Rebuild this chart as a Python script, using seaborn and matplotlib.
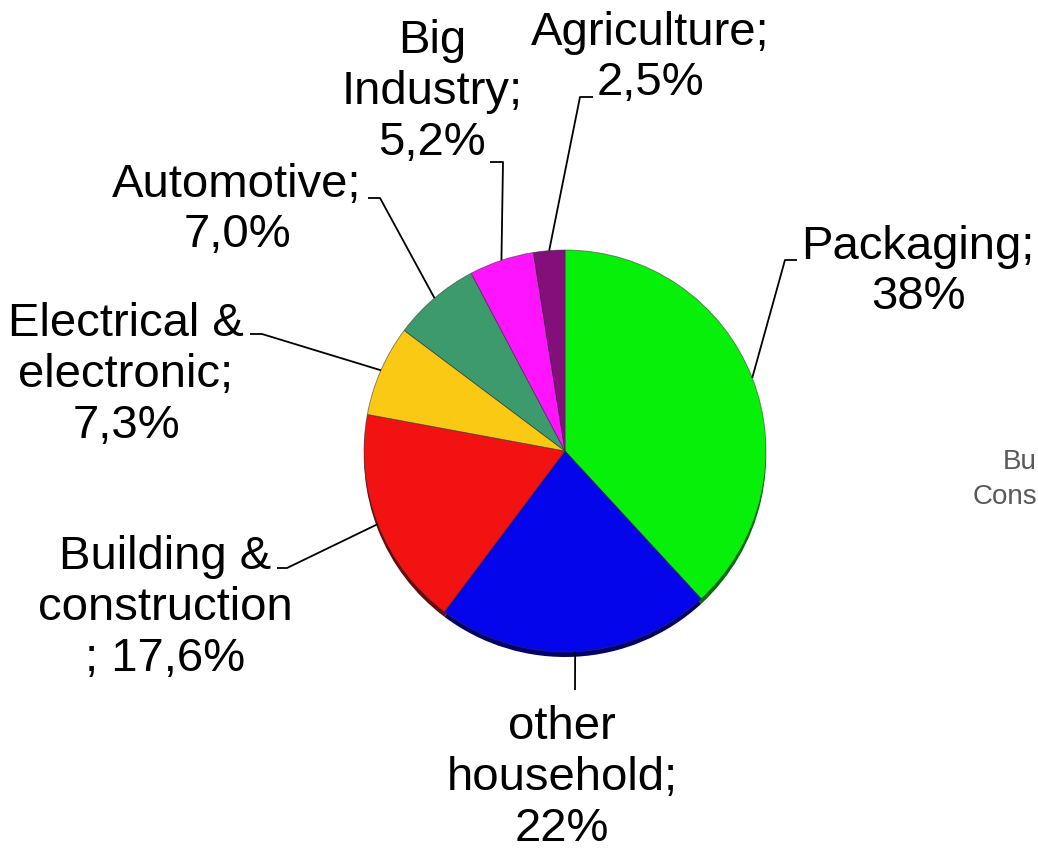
import numpy as np
import matplotlib
matplotlib.use("Agg")
import matplotlib.pyplot as plt
import matplotlib.colors as mcolors
import seaborn as sns

# Market share of plastics demand by sector (clockwise from 12 o'clock)
sectors = ["Packaging", "other household", "Building & construction",
           "Electrical & electronic", "Automotive", "Big Industry", "Agriculture"]
shares = [38, 22, 17.6, 7.3, 7.0, 5.2, 2.5]
share_text = ["38%", "22%", "17,6%", "7,3%", "7,0%", "5,2%", "2,5%"]
colors = ["#06F00A", "#0505EB", "#F21212", "#F9C914", "#3C9A6C", "#FF14FF", "#820F7A"]

sns.set_theme(style="white")
plt.rcParams["font.family"] = ["Liberation Sans", "DejaVu Sans"]

W, H = 1038, 855
fig = plt.figure(figsize=(W / 100, H / 100), dpi=100)
ax = fig.add_axes([0, 0, 1, 1])

cx, cy, R = 565, H - 451, 201

# darker rim underneath gives the pie a little depth
dark = [tuple(np.array(mcolors.to_rgb(c)) * 0.45) for c in colors]
ax.pie(shares, colors=dark, startangle=90, counterclock=False,
       center=(cx, cy - 5), radius=R, frame=True,
       wedgeprops=dict(linewidth=0))
wedges, _ = ax.pie(shares, colors=colors, startangle=90, counterclock=False,
                   center=(cx, cy), radius=R, frame=True,
                   wedgeprops=dict(linewidth=0.6, edgecolor=(0.2, 0.2, 0.2, 0.6)))
ax.set_xlim(0, W)
ax.set_ylim(0, H)
ax.set_aspect("equal")
ax.axis("off")

# label text: category name followed by the value
labels = [
    "Packaging;\n" + share_text[0],
    "other\nhousehold;\n" + share_text[1],
    "Building &\nconstruction\n; " + share_text[2],
    "Electrical &\nelectronic;\n" + share_text[3],
    "Automotive;\n" + share_text[4],
    "Big\nIndustry;\n" + share_text[5],
    "Agriculture;\n" + share_text[6],
]
# text centre, leader elbow and leader end (pixels from top-left)
text_pos = [(918, 272), (562, 778), (165, 608), (126, 375), (237, 210), (432, 92), (650, 58)]
elbows = [[(785, 260), (797, 260)],
          [(575, 690)],
          [(287, 568), (277, 568)],
          [(262, 334), (250, 334)],
          [(380, 198), (368, 198)],
          [(503, 162), (490, 162)],
          [(580, 97), (593, 97)]]

total = sum(shares)
start = 90.0
for i, w in enumerate(wedges):
    span = shares[i] / total * 360
    mid = np.deg2rad(start - span / 2)
    start -= span
    ax_x = cx + R * np.cos(mid)
    ax_y = cy + R * np.sin(mid)
    xs = [ax_x] + [p[0] for p in elbows[i]]
    ys = [ax_y] + [H - p[1] for p in elbows[i]]
    ax.plot(xs, ys, color="black", linewidth=1.3, solid_capstyle="butt")
    tx, ty = text_pos[i]
    ax.text(tx, H - ty, labels[i], ha="center", va="center", fontsize=34,
            linespacing=1.2, color="black")

# neighbouring chart text running in from the right
ax.text(1037, H - 462, "Bu", ha="right", va="center", fontsize=20, color="#595959")
ax.text(1037, H - 497, "Cons", ha="right", va="center", fontsize=20, color="#595959")

fig.savefig("out.png", dpi=100, facecolor="white")
